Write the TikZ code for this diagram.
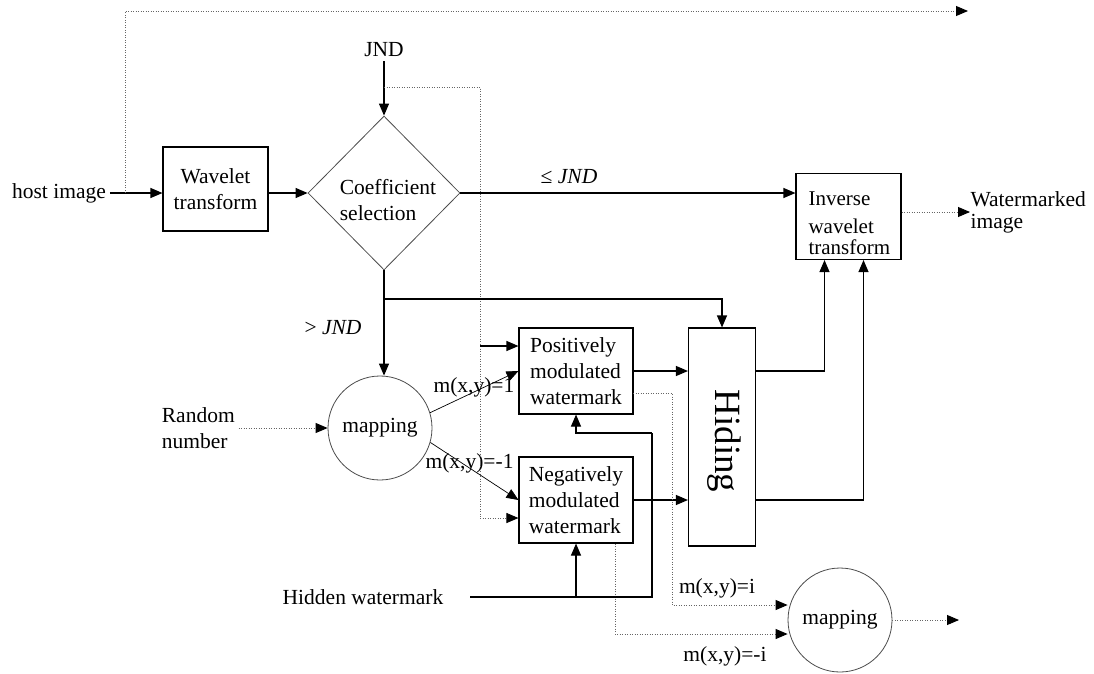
\documentclass[tikz,border=0pt]{standalone}
\usepackage{fontspec}
\setmainfont{Liberation Serif}
\usetikzlibrary{arrows.meta,shapes.geometric,calc}
\begin{document}
\begin{tikzpicture}[x=1pt,y=-1pt,
  font=\fontsize{21.5}{26}\selectfont,
  line width=1.1pt,
  arr/.style={draw=black,line width=1.1pt,-{Triangle[length=12pt,width=10pt]}},
  dotarr/.style={draw=black!60,line width=0.9pt,dash pattern=on 0.9pt off 1.6pt,-{Triangle[length=12pt,width=10pt,color=black]}},
  dotln/.style={draw=black!60,line width=0.9pt,dash pattern=on 0.9pt off 1.6pt},
  blk/.style={draw=black,line width=1.1pt,rectangle,inner sep=0pt,align=left},
  circ/.style={draw=black!70,line width=0.8pt,circle,minimum size=104pt,inner sep=0pt},
  lbl/.style={inner sep=0pt}]
\useasboundingbox (0,0) rectangle (1094,673);

% nodes
\node (host) at (59,193) {host image};
\node[blk, minimum width=105pt, minimum height=84pt, align=center] (wt) at (215.5,189) {Wavelet\\transform};
\node[draw=black!70, line width=0.8pt, diamond, minimum width=152pt, minimum height=154pt, inner sep=0pt] (cs) at (384,193) {};
\node[lbl, align=left] (cstext) at (388,200) {Coefficient\\selection};
\node (jnd) at (384,50) {JND};
\node[blk, minimum width=105pt, minimum height=86pt] (iwt) at (848.5,216.5) {};
\node[lbl, anchor=west, align=left, font=\fontsize{21}{24}\selectfont] (iwttext) at (808,223) {Inverse\\[4pt]wavelet\\[-3pt]transform};
\node[lbl, anchor=west, align=left] (wm) at (970,212) {Watermarked\\[-4pt]image};
\node[blk, minimum width=114pt, minimum height=86pt] (pos) at (576,371) {Positively\\modulated\\watermark};
\node[blk, minimum width=114pt, minimum height=86pt] (neg) at (576,500) {Negatively\\modulated\\watermark};
\node[blk, minimum width=67pt, minimum height=218pt] (hid) at (722,437) {};
\node[rotate=-90, font=\fontsize{37}{40}\selectfont] (hidtext) at (724,441) {Hiding};
\node[circ] (map1) at (380,428) {mapping};
\node[circ] (map2) at (840,620) {mapping};
\node[anchor=west, align=left] (rnd) at (158,428) {Random\\number};
\node[lbl] (hw) at (363,597) {Hidden watermark};

% labels
\node[lbl] (le) at (569,177) {≤ \textit{JND}};
\node[lbl] (gt) at (333,328) {> \textit{JND}};
\node[lbl, anchor=west] (m1) at (433,387) {m(x,y)=1};
\node[lbl, anchor=west] (m2) at (425,463) {m(x,y)=-1};
\node[lbl] (mi) at (717,588) {m(x,y)=i};
\node[lbl] (mmi) at (725,656) {m(x,y)=-i};

% coordinates
\coordinate (tapH) at (125,193);
\coordinate (topEnd) at (968,11);
\coordinate (cjnd) at (384,87);
\coordinate (dv) at (480,87);
\coordinate (dvp) at (480,346);
\coordinate (dvb) at (480,518);
\coordinate (br) at (384,299);
\coordinate (hwL) at (470,597);
\coordinate (hwR) at (652,597);
\coordinate (hwU) at (652,433);
\coordinate (pdS) at (633,393);
\coordinate (pd) at (672,605);
\coordinate (nd) at (615,634);
\coordinate (m2out) at (959,620);

% connectors
\draw[arr] (host.east) -- (host.east -| wt.west);
\draw[dotarr] (tapH) |- (topEnd);
\draw[arr] (cs.west -| wt.east) -- (cs.west);
\draw[arr] (jnd.south) -- (cs.north);
\draw[dotln] (cjnd) -- (dv) -- (dvb);
\draw[dotarr] (dvb) -- (dvb -| neg.west);
\draw[arr] (dvp) -- (dvp -| pos.west);
\draw[arr] (cs.east) -- (cs.east -| iwt.west);
\draw[arr] (cs.south) -- (cs.south |- map1.north);
\draw[arr] (br) -| (hid.north);
\draw[arr, line width=0.7pt] (map1.17) -- (pos.west);
\draw[arr, line width=0.7pt] (map1.-16) -- (neg.west);
\draw[dotarr] (rnd.east) -- (map1.west);
\draw[arr] (pos.east) -- (pos.east -| hid.west);
\draw[arr] (neg.east) -- (neg.east -| hid.west);
\draw[arr] (hid.east |- pos.east) -| ([xshift=-24pt]iwt.south);
\draw[arr] (hid.east |- neg.east) -| ([xshift=15pt]iwt.south);
\draw[dotarr] (wm.west -| iwt.east) -- (wm.west);
\draw[dotarr] (pdS) -| (pd) -- (pd -| map2.west);
\draw[dotarr] (neg.south -| nd) -- (nd) -- (nd -| map2.west);
\draw[dotarr] (map2.east) -- (m2out);
\draw (hwL) -- (hwR) -- (hwU);
\draw[arr] (hwU) -| (pos.south);
\draw[arr] (hwL -| neg.south) -- (neg.south);
\end{tikzpicture}
\end{document}
